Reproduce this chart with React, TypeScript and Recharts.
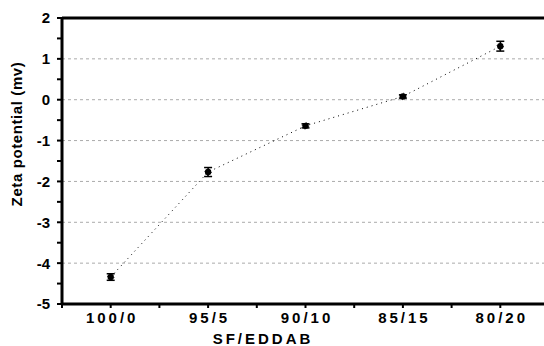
import { LineChart, Line, XAxis, YAxis, ErrorBar, ReferenceLine } from 'recharts';

const ratios = ['100/0', '95/5', '90/10', '85/15', '80/20'];
const zeta = [-4.34, -1.77, -0.64, 0.08, 1.31];
const zetaErr = [0.08, 0.11, 0.05, 0.04, 0.12];

const yTicks = [-5, -4.5, -4, -3.5, -3, -2.5, -2, -1.5, -1, -0.5, 0, 0.5, 1, 1.5, 2];
const xTicks = [-0.5, 0, 0.5, 1, 1.5, 2, 2.5, 3, 3.5, 4, 4.5];
const gridValues = [1, 0, -1, -2, -3, -4];

const data = ratios.map((r, i) => ({ idx: i, ratio: r, zeta: zeta[i], err: zetaErr[i] }));

const FONT = '"Liberation Sans", Arial, sans-serif';

const YTick = (props: any) => {
  const { x, y, payload } = props;
  if (!Number.isInteger(payload.value)) return <g />;
  return (
    <text x={x} y={y} dy="0.36em" textAnchor="end" fontFamily={FONT} fontWeight="bold" fontSize={15} fill="#000">
      {payload.value}
    </text>
  );
};

const XTick = (props: any) => {
  const { x, y, payload } = props;
  if (!Number.isInteger(payload.value)) return <g />;
  return (
    <text x={x + 1.5} y={y} dy="0.71em" textAnchor="middle" fontFamily={FONT} fontWeight="bold" fontSize={15} letterSpacing={3} fill="#000">
      {ratios[payload.value]}
    </text>
  );
};

export default function App() {
  return (
    <div style={{ position: 'fixed', left: 0, top: 0, width: 544, height: 346, overflow: 'hidden', background: '#fff' }}>
      <LineChart width={549} height={346} data={data} margin={{ top: 18, right: 0, left: 0, bottom: 0 }}>
        {gridValues.map((v) => (
          <ReferenceLine key={v} y={v} stroke="#aaa" strokeDasharray="3 3" strokeWidth={1} />
        ))}
        <ReferenceLine y={2} stroke="#000" strokeWidth={3} />
        <XAxis
          dataKey="idx"
          type="number"
          domain={[-0.5, 4.5]}
          ticks={xTicks}
          interval={0}
          allowDecimals
          height={42}
          tickSize={4}
          tickMargin={4}
          stroke="#000"
          axisLine={{ stroke: '#000', strokeWidth: 3 }}
          tickLine={{ stroke: '#000', strokeWidth: 2 }}
          tick={XTick}
          label={{
            content: () => (
              <text x={263} y={344} textAnchor="middle" fontFamily={FONT} fontWeight="bold" fontSize={15} letterSpacing={3} fill="#000">
                SF/EDDAB
              </text>
            ),
          }}
        />
        <YAxis
          type="number"
          domain={[-5, 2]}
          ticks={yTicks}
          interval={0}
          allowDecimals
          width={62}
          tickSize={5}
          tickMargin={7}
          stroke="#000"
          axisLine={{ stroke: '#000', strokeWidth: 3 }}
          tickLine={{ stroke: '#000', strokeWidth: 2 }}
          tick={YTick}
          label={{
            content: () => (
              <text x={17} y={134} transform="rotate(-90 17 134)" dy="0.36em" textAnchor="middle" fontFamily={FONT} fontWeight="bold" fontSize={15} letterSpacing={0.6} fill="#000">
                Zeta potential (mv)
              </text>
            ),
          }}
        />
        <Line
          dataKey="zeta"
          type="linear"
          stroke="#000"
          strokeWidth={1}
          strokeDasharray="1 4"
          dot={{ r: 3.2, fill: '#000', stroke: '#000', strokeWidth: 1 }}
          isAnimationActive={false}
        >
          <ErrorBar dataKey="err" direction="y" width={4} stroke="#000" strokeWidth={1.5} isAnimationActive={false} />
        </Line>
      </LineChart>
    </div>
  );
}
